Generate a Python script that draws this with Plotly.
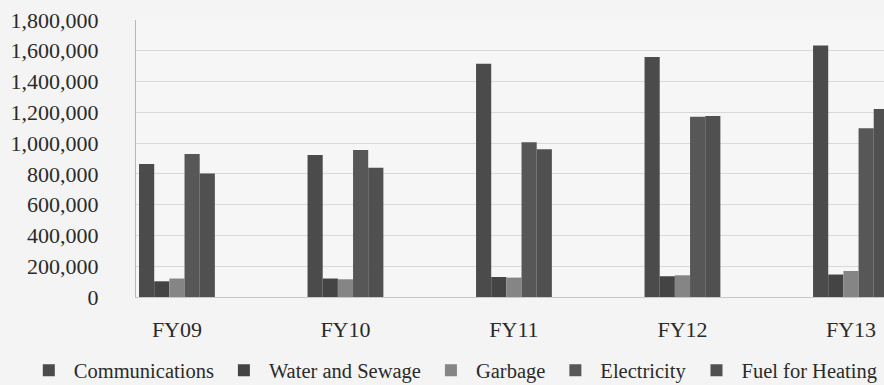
import plotly.graph_objects as go

# Fiscal years on the x axis
years = ["FY09", "FY10", "FY11", "FY12", "FY13"]

# Utility cost per year, one list per category
communications = [864000, 922000, 1515000, 1559000, 1634000]
water_sewage = [102000, 120000, 130000, 135000, 146000]
garbage = [120000, 115000, 126000, 141000, 169000]
electricity = [929000, 955000, 1005000, 1172000, 1096000]
fuel_heating = [803000, 840000, 960000, 1176000, 1222000]

# Y axis ticks
y_ticks = list(range(0, 1800001, 200000))
y_tick_text = [f"{v:,}" for v in y_ticks]

series = [
    ("Communications", communications, "#4b4b4b"),
    ("Water and Sewage", water_sewage, "#444444"),
    ("Garbage", garbage, "#858585"),
    ("Electricity", electricity, "#575757"),
    ("Fuel for Heating", fuel_heating, "#505050"),
]

FONT = "Liberation Serif"

fig = go.Figure()
for name, vals, color in series:
    fig.add_trace(go.Bar(
        name=name, x=years, y=vals,
        marker=dict(color=color, line=dict(width=0)),
    ))

fig.update_layout(
    width=884, height=385,
    margin=dict(l=136, r=0, t=20, b=88, autoexpand=False),
    barmode="group",
    bargap=0.55,
    bargroupgap=0,
    paper_bgcolor="#f4f4f4",
    plot_bgcolor="#f6f6f6",
    font=dict(family=FONT, size=21, color="#2a2a2a"),
    showlegend=True,
    legend=dict(
        orientation="h",
        xref="paper", yref="paper",
        x=-0.15, xanchor="left",
        y=-0.265, yanchor="middle",
        itemwidth=40,
        font=dict(family=FONT, size=20.5, color="#2a2a2a"),
        bgcolor="rgba(0,0,0,0)",
        traceorder="normal",
    ),
    xaxis=dict(
        type="category",
        range=[-0.243, 4.196],
        showgrid=False,
        showline=True, linecolor="#c8c8c8", linewidth=1,
        ticks="",
        ticklabelstandoff=13,
        tickfont=dict(family=FONT, size=22, color="#2a2a2a"),
    ),
    yaxis=dict(
        range=[0, 1800000],
        tickvals=y_ticks,
        ticktext=y_tick_text,
        showgrid=True, gridcolor="#d9d9d9", gridwidth=1,
        showline=True, linecolor="#b8b8b8", linewidth=1,
        zeroline=False,
        ticks="",
        ticklabelstandoff=32,
        tickfont=dict(family=FONT, size=22, color="#2a2a2a"),
    ),
)

fig.write_html("out.html")
